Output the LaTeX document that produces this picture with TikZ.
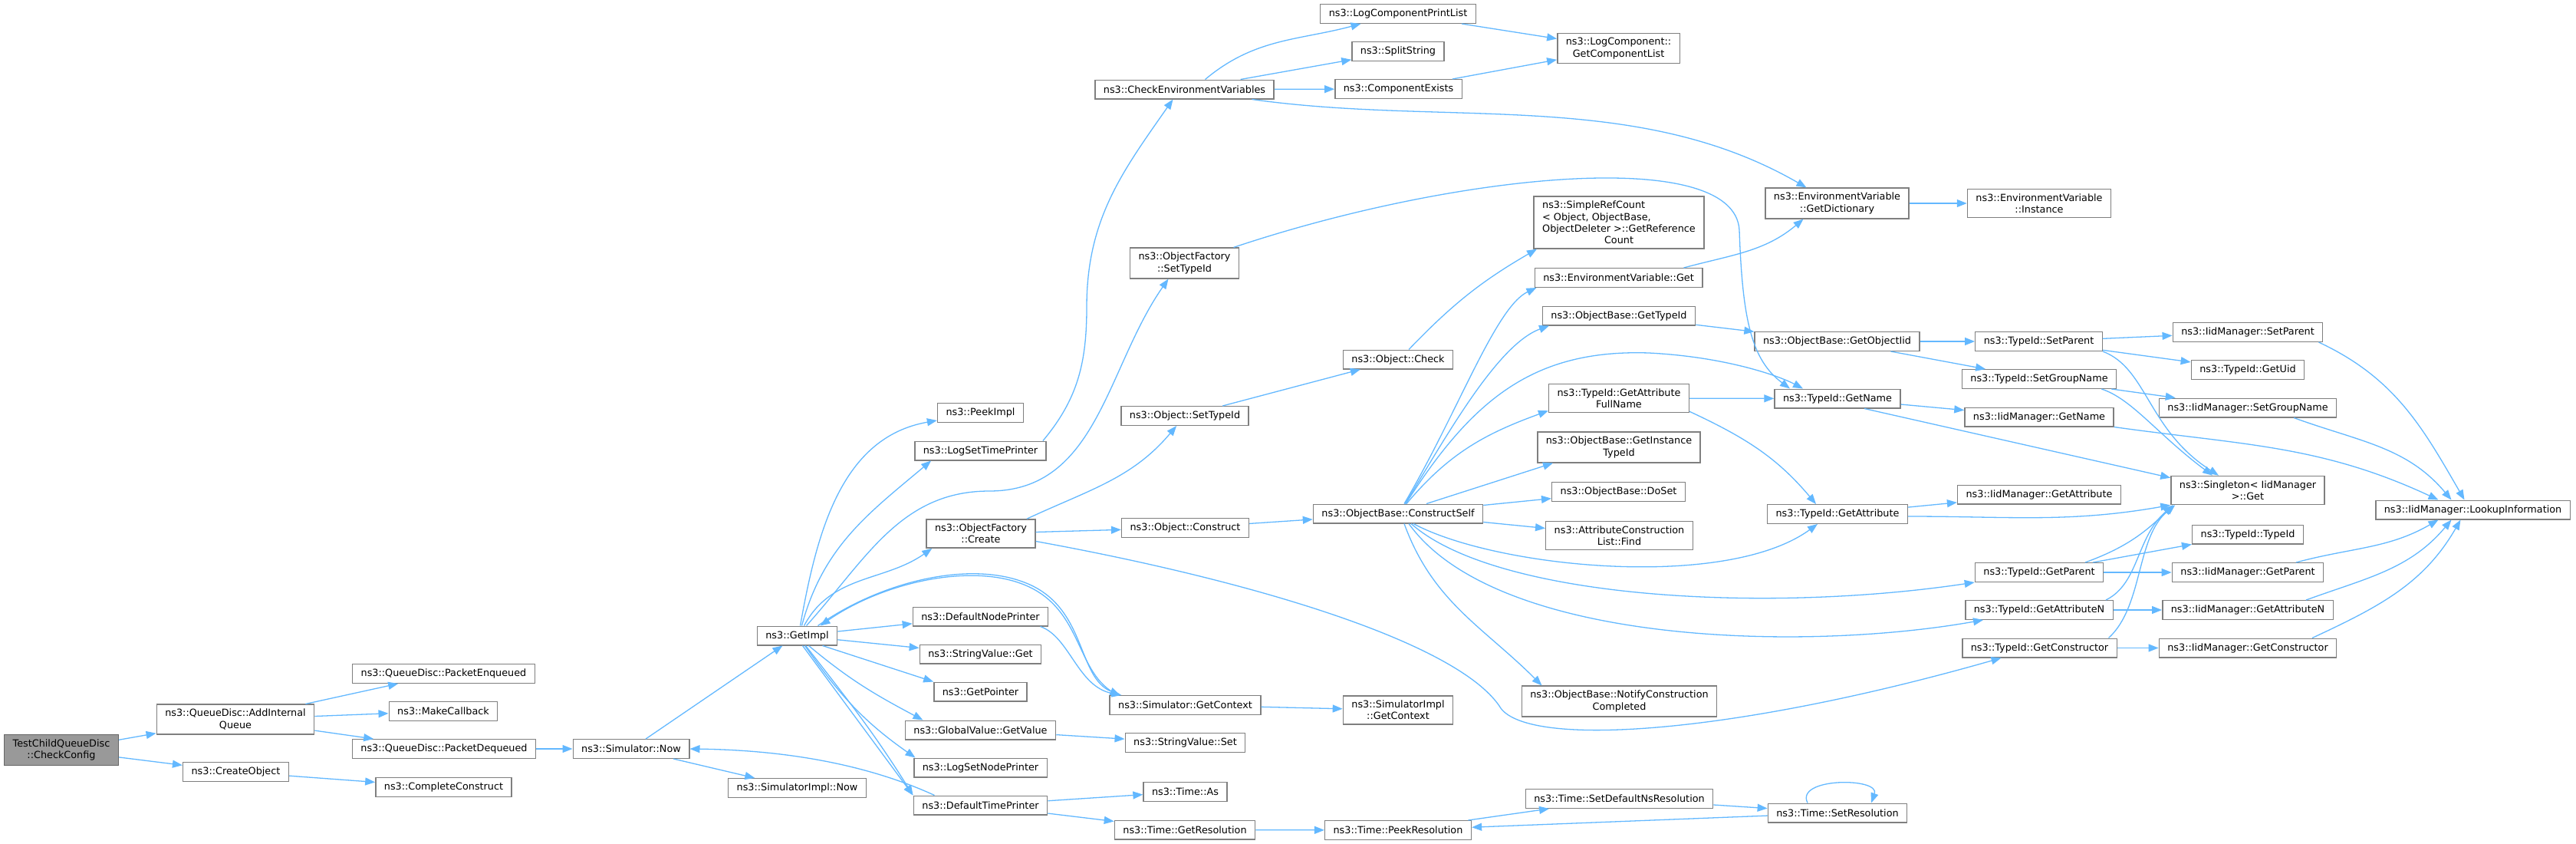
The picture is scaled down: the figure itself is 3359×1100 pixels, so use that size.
\documentclass[tikz,border=0pt]{standalone}
\usepackage{fontspec}
\newfontfamily\dvsans{DejaVu Sans}
\usepackage{xcolor}
\usepackage{tikz}
\usetikzlibrary{arrows.meta}
\definecolor{edgeblue}{HTML}{63B8FF}
\definecolor{boxline}{HTML}{7F7F7F}
\definecolor{rootfill}{HTML}{999999}
\definecolor{rootline}{HTML}{666666}

\begin{document}
\begin{tikzpicture}[
    x=1pt, y=1pt,
    fn/.style={rectangle, draw=boxline, line width=1.4pt, fill=white, align=center, inner xsep=11pt, inner ysep=6pt, minimum height=24.6pt, font=\dvsans\fontsize{12.8}{15.3}\selectfont},
    root/.style={fn, fill=rootfill, draw=rootline},
    arrow/.style={-{Triangle[length=13pt,width=10pt]}, draw=edgeblue, line width=1.3pt}
]
\useasboundingbox (0,0) rectangle (3359,-1100);

% Root
\node[root] (cfg) at (80,-977.5) {TestChildQueueDisc\\::CheckConfig};

% Queue disc side
\node[fn] (addq) at (307,-937.5) {ns3::QueueDisc::AddInternal\\Queue};
\node[fn] (mkobj) at (307.5,-1006) {ns3::CreateObject};
\node[fn] (pktenq) at (578.5,-878) {ns3::QueueDisc::PacketEnqueued};
\node[fn] (mkcb) at (578,-927) {ns3::MakeCallback};
\node[fn] (pktdeq) at (579,-976) {ns3::QueueDisc::PacketDequeued};
\node[fn] (cplcons) at (578.5,-1026) {ns3::CompleteConstruct};
\node[fn] (simnow) at (823,-976) {ns3::Simulator::Now};

% Simulator implementation
\node[fn] (getimpl) at (1039.5,-828.5) {ns3::GetImpl};
\node[fn] (implnow) at (1039.5,-1027) {ns3::SimulatorImpl::Now};
\node[fn] (peekimpl) at (1278.5,-538) {ns3::PeekImpl};
\node[fn] (logtime) at (1278.5,-587.5) {ns3::LogSetTimePrinter};
\node[fn] (ofcreate) at (1279,-695.5) {ns3::ObjectFactory\\::Create};
\node[fn] (nodeprn) at (1278.5,-803.5) {ns3::DefaultNodePrinter};
\node[fn] (svget) at (1278.5,-852.5) {ns3::StringValue::Get};
\node[fn] (getptr) at (1278.5,-901.5) {ns3::GetPointer};
\node[fn] (gvget) at (1278.5,-951.5) {ns3::GlobalValue::GetValue};
\node[fn] (lognode) at (1278.5,-1000.5) {ns3::LogSetNodePrinter};
\node[fn] (timeprn) at (1278.5,-1049.5) {ns3::DefaultTimePrinter};

% Third column
\node[fn] (checkenv) at (1544.5,-116.5) {ns3::CheckEnvironmentVariables};
\node[fn] (ofsettid) at (1544.5,-343) {ns3::ObjectFactory\\::SetTypeId};
\node[fn] (objsettid) at (1545,-542) {ns3::Object::SetTypeId};
\node[fn] (objcons) at (1545.5,-688) {ns3::Object::Construct};
\node[fn] (simctx) at (1545.5,-919) {ns3::Simulator::GetContext};
\node[fn] (svset) at (1545.5,-968) {ns3::StringValue::Set};
\node[fn] (timeas) at (1545.5,-1032) {ns3::Time::As};
\node[fn] (getres) at (1545,-1081.5) {ns3::Time::GetResolution};

% Fourth column
\node[fn] (printlist) at (1823,-18) {ns3::LogComponentPrintList};
\node[fn] (split) at (1823,-67) {ns3::SplitString};
\node[fn] (compex) at (1823.5,-116) {ns3::ComponentExists};
\node[fn] (objcheck) at (1823,-468.5) {ns3::Object::Check};
\node[fn] (cself) at (1823,-669.5) {ns3::ObjectBase::ConstructSelf};
\node[fn] (implctx) at (1823,-925.5) {ns3::SimulatorImpl\\::GetContext};
\node[fn] (peekres) at (1823,-1082) {ns3::Time::PeekResolution};

% Fifth column
\node[fn] (complist) at (2110.5,-63) {ns3::LogComponent::\\GetComponentList};
\node[fn, align=left] (refcount) at (2111,-290) {ns3::SimpleRefCount\\< Object, ObjectBase,\\ObjectDeleter >::GetReference\\\null\hfill Count\hfill\null};
\node[fn] (envget) at (2110.5,-362) {ns3::EnvironmentVariable::Get};
\node[fn] (obgettid) at (2111,-411.5) {ns3::ObjectBase::GetTypeId};
\node[fn] (attrfull) at (2111,-519) {ns3::TypeId::GetAttribute\\FullName};
\node[fn] (insttid) at (2111,-583) {ns3::ObjectBase::GetInstance\\TypeId};
\node[fn] (doset) at (2110.5,-641) {ns3::ObjectBase::DoSet};
\node[fn] (acfind) at (2111.5,-698) {ns3::AttributeConstruction\\List::Find};
\node[fn] (notify) at (2111.5,-914) {ns3::ObjectBase::NotifyConstruction\\Completed};
\node[fn] (setdefres) at (2111.5,-1041) {ns3::Time::SetDefaultNsResolution};

% Sixth column
\node[fn] (getdict) at (2395.5,-265) {ns3::EnvironmentVariable\\::GetDictionary};
\node[fn] (objiid) at (2395.5,-445) {ns3::ObjectBase::GetObjectIid};
\node[fn] (tidname) at (2396,-519.5) {ns3::TypeId::GetName};
\node[fn] (tidattr) at (2396,-670) {ns3::TypeId::GetAttribute};
\node[fn] (setres) at (2396,-1059.5) {ns3::Time::SetResolution};

% TypeId calls
\node[fn] (envinst) at (2659,-265) {ns3::EnvironmentVariable\\::Instance};
\node[fn] (tidsetpar) at (2658.5,-445) {ns3::TypeId::SetParent};
\node[fn] (tidsetgrp) at (2659,-494) {ns3::TypeId::SetGroupName};
\node[fn] (iidname) at (2659,-543.5) {ns3::IidManager::GetName};
\node[fn] (iidattr) at (2659,-644.5) {ns3::IidManager::GetAttribute};
\node[fn] (tidpar) at (2659,-746) {ns3::TypeId::GetParent};
\node[fn] (tidattrn) at (2659,-795) {ns3::TypeId::GetAttributeN};
\node[fn] (tidctor) at (2659.5,-844.5) {ns3::TypeId::GetConstructor};

% IidManager calls
\node[fn] (iidsetpar) at (2931,-433) {ns3::IidManager::SetParent};
\node[fn] (tiduid) at (2931,-482) {ns3::TypeId::GetUid};
\node[fn] (iidsetgrp) at (2931,-531.5) {ns3::IidManager::SetGroupName};
\node[fn] (singleton) at (2931,-639) {ns3::Singleton< IidManager\\>::Get};
\node[fn] (tidtid) at (2931,-696.5) {ns3::TypeId::TypeId};
\node[fn] (iidpar) at (2931,-746) {ns3::IidManager::GetParent};
\node[fn] (iidattrn) at (2931,-795) {ns3::IidManager::GetAttributeN};
\node[fn] (iidctor) at (2931,-844.5) {ns3::IidManager::GetConstructor};
\node[fn] (lookup) at (3224.5,-664.5) {ns3::IidManager::LookupInformation};

% Arrows
\draw[arrow] (cfg) -- (addq);
\draw[arrow] (cfg) -- (mkobj);
\draw[arrow] (addq) -- (pktenq);
\draw[arrow] (addq) -- (mkcb);
\draw[arrow] (addq) -- (pktdeq);
\draw[arrow] (mkobj) -- (cplcons);
\draw[arrow] (pktdeq) -- (simnow);
\draw[arrow] (simnow) -- (getimpl);
\draw[arrow] (simnow) -- (implnow);

% GetImpl fan-out
\draw[arrow] ([xshift=4pt]getimpl.north) to[out=80,in=-170] (peekimpl);
\draw[arrow] ([xshift=6pt]getimpl.north) to[out=75,in=-140] ([xshift=22pt]logtime.south west);
\draw[arrow] ([xshift=9pt]getimpl.north) to[out=62,in=-145] ([xshift=8pt]ofcreate.south west);
\draw[arrow] ([xshift=12pt]getimpl.north) to[out=48,in=180] (1290,-640) to[out=0,in=-125] ([xshift=-21pt]ofsettid.south);
\draw[arrow] (getimpl) -- (nodeprn);
\draw[arrow] (getimpl) -- (svget);
\draw[arrow] ([xshift=33pt]getimpl.south) -- (getptr.north west);
\draw[arrow] ([xshift=15pt]getimpl.south) to[out=-40,in=152] ([xshift=-75pt]gvget.north);
\draw[arrow] ([xshift=10pt]getimpl.south) to[out=-55,in=145] ([xshift=-85pt]lognode.north);
\draw[arrow] ([xshift=7pt]getimpl.south) -- ([xshift=-88pt]timeprn.north);
\draw[arrow] ([xshift=11pt]getimpl.south) to[out=-52,in=122] ([xshift=-88pt]timeprn.north);
\draw[arrow] ([xshift=12pt]simctx.north west) .. controls (1400,-880) and (1415,-790) .. (1330,-760) .. controls (1260,-735) and (1150,-760) .. ([xshift=30pt]getimpl.north);
\draw[arrow] ([xshift=27pt]getimpl.north) .. controls (1150,-757) and (1262,-732) .. (1333,-758) .. controls (1418,-788) and (1403,-882) .. ([xshift=14pt]simctx.north west);
\draw[arrow] ([xshift=78pt]nodeprn.south) .. controls (1395,-830) and (1405,-895) .. ([xshift=16pt]simctx.north west);
\draw[arrow] ([xshift=-60pt]timeprn.north) .. controls (1150,-1005) and (1050,-978) .. (simnow.east);

% ObjectFactory
\draw[arrow] ([xshift=60pt]ofcreate.north) to[out=25,in=-130] (objsettid);
\draw[arrow] (ofcreate) -- (objcons);
\draw[arrow] ([yshift=-10pt]ofcreate.east) .. controls (1650,-760) and (1900,-840) .. (1955,-920) .. controls (1985,-975) and (2250,-960) .. ([xshift=-50pt]tidctor.south);
\draw[arrow] (objsettid) -- (objcheck);
\draw[arrow] ([xshift=14pt]objcheck.north) to[bend left=8] ([xshift=-107pt]refcount.south);
\draw[arrow] (objcons) -- (cself);
\draw[arrow] ([xshift=64pt]ofsettid.north) .. controls (1900,-225) and (2262,-190) .. (2268,-300) .. controls (2272,-420) and (2285,-470) .. ([xshift=-62pt]tidname.north);

% Environment variables
\draw[arrow] ([xshift=-5pt]logtime.north east) to[out=50,in=-90] (1417,-400) to[out=90,in=-125] ([xshift=-15pt]checkenv.south);
\draw[arrow] ([xshift=27pt]checkenv.north) to[out=40,in=-165] (printlist);
\draw[arrow] (checkenv) -- (split);
\draw[arrow] (checkenv) -- (compex);
\draw[arrow] ([xshift=88pt]checkenv.south) to[out=-8,in=150,looseness=0.9] ([xshift=-40pt]getdict.north);
\draw[arrow] (printlist) -- (complist);
\draw[arrow] (compex) -- (complist);
\draw[arrow] (getdict) -- (envinst);
\draw[arrow] ([xshift=-25pt]envget.north east) to[out=15,in=-140] ([xshift=-44pt]getdict.south);

% ConstructSelf
\draw[arrow] ([xshift=8pt]cself.north) .. controls (1900,-540) and (1950,-400) .. ([xshift=-107pt]envget.south);
\draw[arrow] ([xshift=9pt]cself.north) .. controls (1880,-580) and (1950,-450) .. ([xshift=-91pt]obgettid.south);
\draw[arrow] ([xshift=11pt]cself.north) to[out=50,in=-160] ([yshift=3pt]attrfull.south west);
\draw[arrow] ([xshift=10pt]cself.north) .. controls (1920,-520) and (2000,-455) .. (2150,-460) .. controls (2250,-465) and (2320,-490) .. ([xshift=-45pt]tidname.north);
\draw[arrow] ([xshift=37pt]cself.north) -- ([xshift=-86pt]insttid.south);
\draw[arrow] (cself) -- (doset);
\draw[arrow] (cself) -- (acfind);
\draw[arrow] ([xshift=20pt]cself.south) .. controls (1950,-740) and (2250,-770) .. ([xshift=-26pt]tidattr.south);
\draw[arrow] ([xshift=17pt]cself.south) .. controls (1950,-780) and (2300,-800) .. (tidpar.south west);
\draw[arrow] ([xshift=14pt]cself.south) .. controls (1950,-840) and (2350,-850) .. ([xshift=-73pt]tidattrn.south);
\draw[arrow] ([xshift=8pt]cself.south) to[out=-70,in=135] ([xshift=-101pt]notify.north);

% TypeId and IidManager
\draw[arrow] (obgettid) -- (objiid);
\draw[arrow] (objiid) -- (tidsetpar);
\draw[arrow] (objiid) -- (tidsetgrp);
\draw[arrow] (attrfull) -- (tidname);
\draw[arrow] ([yshift=2pt]attrfull.south east) to[out=-25,in=130] ([xshift=-28pt]tidattr.north);
\draw[arrow] (tidname) -- (iidname);
\draw[arrow] ([xshift=35pt]tidname.south) -- ([yshift=-3pt]singleton.north west);
\draw[arrow] (tidsetpar) -- (iidsetpar);
\draw[arrow] (tidsetpar) -- (tiduid);
\draw[arrow] (tidsetpar.south east) .. controls (2800,-480) and (2800,-560) .. ([xshift=-38pt]singleton.north);
\draw[arrow] (tidsetgrp) -- (iidsetgrp);
\draw[arrow] ([xshift=-20pt]tidsetgrp.south east) .. controls (2780,-520) and (2812,-565) .. ([xshift=-46pt]singleton.north);
\draw[arrow] (iidname.south east) to[out=-8,in=155] ([xshift=-45pt]lookup.north);
\draw[arrow] ([xshift=-6pt]iidsetpar.south east) to[out=-25,in=120] ([xshift=-11pt]lookup.north);
\draw[arrow] ([xshift=60pt]iidsetgrp.south) to[out=-20,in=130] ([xshift=-28pt]lookup.north);
\draw[arrow] (tidattr) -- (iidattr);
\draw[arrow] ([yshift=-3pt]tidattr.east) to[out=0,in=-170] (singleton.south west);
\draw[arrow] (tidpar) -- (iidpar);
\draw[arrow] ([xshift=70pt]tidpar.north) -- (tidtid.south west);
\draw[arrow] ([xshift=60pt]tidpar.north) to[out=20,in=-135] ([xshift=3pt]singleton.south west);
\draw[arrow] ([xshift=63pt]iidpar.north) to[out=15,in=-150] ([xshift=-45pt]lookup.south);
\draw[arrow] (tidattrn) -- (iidattrn);
\draw[arrow] ([xshift=87pt]tidattrn.north) .. controls (2790,-760) and (2785,-700) .. ([xshift=4pt]singleton.south west);
\draw[arrow] ([xshift=76pt]iidattrn.north) to[out=20,in=-130] ([xshift=-28pt]lookup.south);
\draw[arrow] (tidctor) -- (iidctor);
\draw[arrow] ([xshift=90pt]tidctor.north) .. controls (2795,-790) and (2785,-700) .. ([xshift=6pt]singleton.south west);
\draw[arrow] ([xshift=84pt]iidctor.north) to[out=25,in=-120] ([xshift=-16pt]lookup.south);

% Context, values and time
\draw[arrow] (simctx) -- (implctx);
\draw[arrow] (gvget) -- (svset);
\draw[arrow] (timeprn) -- (timeas);
\draw[arrow] (timeprn) -- (getres);
\draw[arrow] (getres) -- (peekres);
\draw[arrow] (peekres) -- (setdefres);
\draw[arrow] (setdefres) -- (setres);
\draw[arrow] (setres) -- (peekres);
\draw[arrow] ([xshift=-39pt]setres.north) .. controls (2340,-1013) and (2452,-1013) .. ([xshift=44pt]setres.north);

\end{tikzpicture}
\end{document}
